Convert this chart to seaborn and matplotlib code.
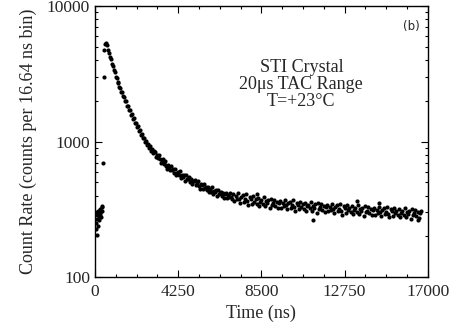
import numpy as np
import pandas as pd
import matplotlib
matplotlib.use("Agg")
import matplotlib.pyplot as plt
import matplotlib.ticker as mticker
import seaborn as sb

# rise region (before the peak)
rise_t = [50, 60, 80, 90, 100, 120, 140, 150, 160, 180, 200, 220, 240, 260, 280, 300, 320, 340, 360, 380,
          420, 440, 470, 520, 560]
rise_c = [250, 225, 300, 205, 285, 270, 310, 240, 290, 275, 300, 262, 285, 320, 295, 305, 280, 330, 310, 335,
          690, 3000, 4700, 5200, 5360]

# fast decay
fast_t = [600, 650, 700, 750, 800, 850, 900, 950, 1000, 1050, 1100, 1150, 1200, 1250, 1300, 1350, 1400, 1450,
          1500, 1550, 1600, 1650, 1700, 1750, 1800, 1850, 1900, 1950, 2000, 2050, 2100, 2150, 2200, 2250,
          2300, 2350, 2400, 2450, 2500, 2550, 2600, 2650, 2700, 2750, 2800, 2850, 2900, 2950, 3000]
fast_c = [5150, 4720, 4530, 4180, 4040, 3720, 3600, 3340, 3240, 3010, 2960, 2760, 2710, 2540, 2500, 2330, 2310, 2150,
          2140, 1990, 1980, 1840, 1830, 1700, 1700, 1580, 1590, 1460, 1480, 1370, 1380, 1280, 1300, 1195,
          1215, 1120, 1145, 1060, 1060, 985, 1010, 935, 960, 890, 920, 855, 880, 820, 850]

# middle part
mid_t = [3050, 3100, 3150, 3200, 3250, 3300, 3350, 3400, 3450, 3500, 3550, 3600, 3650, 3700, 3750, 3800,
         3850, 3900, 3950, 4000, 4050, 4100, 4150, 4200, 4250, 4300, 4350, 4400, 4450, 4500, 4550, 4600,
         4650, 4700, 4750, 4800, 4850, 4900, 4950, 5000, 5050, 5100, 5150, 5200, 5250, 5300, 5350, 5400,
         5450, 5500, 5550, 5600, 5650, 5700, 5750, 5800, 5850, 5900, 5950, 6000, 6050, 6100, 6150, 6200,
         6250, 6300, 6350, 6400, 6450, 6500, 6550, 6600, 6650, 6700, 6750, 6800, 6850, 6900, 6950, 7000]
mid_c = [842, 770, 795, 758, 797, 739, 698, 737, 739, 679, 690, 722, 658, 622, 673, 650,
         612, 662, 616, 627, 591, 627, 566, 590, 596, 566, 606, 543, 567, 550, 568, 513,
         568, 525, 531, 547, 506, 528, 487, 514, 514, 520, 480, 491, 515, 472, 449, 488,
         475, 448, 486, 454, 464, 438, 466, 423, 442, 448, 427, 459, 413, 432, 421, 436,
         395, 439, 408, 414, 428, 398, 416, 386, 408, 415, 385, 403, 389, 416, 391, 374]

# slow tail
tail_t = [7060, 7120, 7180, 7240, 7300, 7360, 7420, 7480, 7540, 7600, 7660, 7720, 7780, 7840, 7900, 7960,
          8020, 8080, 8140, 8200, 8260, 8320, 8380, 8440, 8500, 8560, 8620, 8680, 8740, 8800, 8860, 8920,
          8980, 9040, 9100, 9160, 9220, 9280, 9340, 9400, 9460, 9520, 9580, 9640, 9700, 9760, 9820, 9880,
          9940, 10000, 10060, 10120, 10180, 10240, 10300, 10360, 10420, 10480, 10540, 10600, 10660, 10720,
          10780, 10840, 10900, 10960, 11020, 11080, 11140, 11200, 11260, 11320, 11380, 11440, 11500, 11560,
          11620, 11680, 11740, 11800, 11860, 11920, 11980, 12040, 12100, 12160, 12220, 12280, 12340, 12400,
          12460, 12520, 12580, 12640, 12700, 12760, 12820, 12880, 12940, 13000, 13060, 13120, 13180, 13240,
          13300, 13360, 13420, 13480, 13540, 13600, 13660, 13720, 13780, 13840, 13900, 13960, 14020, 14080,
          14140, 14200, 14260, 14320, 14380, 14440, 14500, 14560, 14620, 14680, 14740, 14800, 14860, 14920,
          14980, 15040, 15100, 15160, 15220, 15280, 15340, 15400, 15460, 15520, 15580, 15640, 15700, 15760,
          15820, 15880, 15940, 16000, 16060, 16120, 16180, 16240, 16300, 16360, 16420, 16480, 16540, 16600,
          16660, 11150, 13400, 14500, 16500, 8300]
tail_c = [410, 367, 395, 375, 415, 379, 354, 393, 403, 361, 377, 410, 363, 339, 388, 376,
          347, 396, 361, 377, 349, 386, 335, 361, 371, 348, 391, 337, 362, 351, 371, 322,
          378, 341, 351, 371, 333, 359, 322, 352, 362, 325, 350, 334, 370, 338, 316, 351,
          361, 325, 340, 370, 329, 308, 353, 342, 317, 361, 331, 345, 319, 354,
          308, 333, 342, 321, 361, 310, 335, 324, 344, 298, 353, 317, 327, 347,
          311, 336, 301, 330, 339, 305, 328, 313, 346, 317, 297, 331, 339, 306,
          319, 348, 309, 289, 332, 322, 298, 341, 311, 325, 302, 334, 291, 314,
          323, 304, 341, 293, 317, 306, 325, 282, 333, 301, 309, 328, 295, 317,
          285, 312, 321, 288, 311, 296, 328, 300, 282, 313, 322, 290, 303, 330,
          294, 276, 316, 307, 283, 324, 296, 309, 286, 317, 277, 298, 307, 288,
          324, 279, 300, 292, 309, 268, 317, 286, 295, 312, 281, 303, 272, 297,
          305, 262, 362, 355, 262, 410]

df = pd.DataFrame({
    "time": rise_t + fast_t + mid_t + tail_t,
    "counts": rise_c + fast_c + mid_c + tail_c,
})

sb.set_style("ticks")
plt.rcParams["font.family"] = ["Liberation Serif", "DejaVu Serif"]

fig = plt.figure(figsize=(4.6, 3.28), dpi=100)
ax = fig.add_axes([0.2065, 0.155, 0.7235, 0.827])
sb.scatterplot(data=df, x="time", y="counts", color="black", s=9, linewidth=0, ax=ax)

ax.set_yscale("log")
ax.set_xlim(0, 17000)
ax.set_ylim(100, 10000)
ax.set_xticks([0, 4250, 8500, 12750, 17000])
ax.xaxis.set_minor_locator(mticker.MultipleLocator(1062.5))
ax.yaxis.set_major_formatter(mticker.FuncFormatter(lambda v, p: f"{int(v)}"))
ax.yaxis.set_minor_formatter(mticker.NullFormatter())
ax.tick_params(which="both", direction="in", top=True, right=True, labelsize=12.5, width=0.8, color="black")
ax.tick_params(which="major", length=5)
ax.tick_params(which="minor", length=2.5)
ax.tick_params(axis="x", which="major", pad=5)
for s in ax.spines.values():
    s.set_linewidth(1.0)
    s.set_color("black")

ax.set_xlabel("Time (ns)", fontsize=13, labelpad=3)
ax.set_ylabel("Count Rate (counts per 16.64 ns bin)", fontsize=13, labelpad=7)

ax.text(0.62, 0.71, "STI Crystal\n20\u03bcs TAC Range\nT=+23\u00b0C", transform=ax.transAxes,
        ha="center", va="center", fontsize=13, linespacing=1.0)
ax.text(0.975, 0.925, "(b)", transform=ax.transAxes, ha="right", va="center",
        fontsize=8.5, family="DejaVu Sans")

plt.savefig("out.png", dpi=100)
